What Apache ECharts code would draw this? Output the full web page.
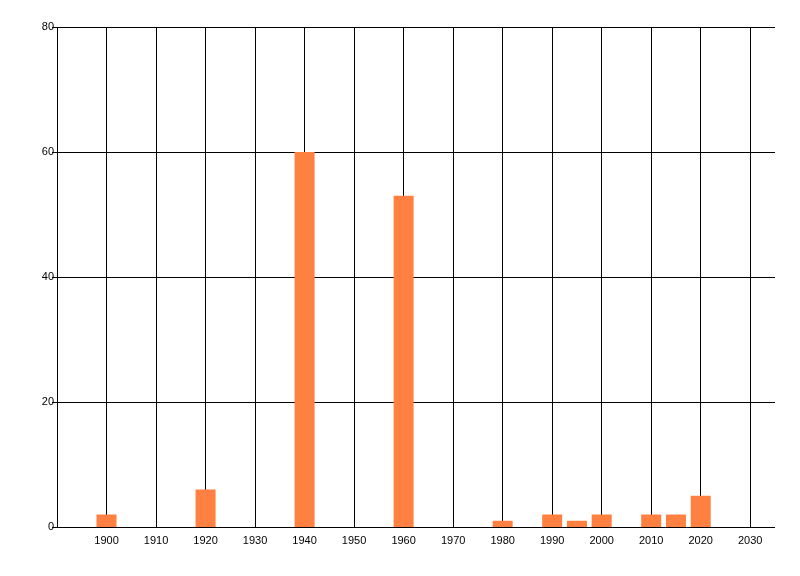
<!DOCTYPE html>
<html>
<head>
<meta charset="utf-8">
<script src="https://cdn.jsdelivr.net/npm/echarts@6/dist/echarts.min.js"></script>
<style>html,body{margin:0;padding:0;background:#fff}#c{width:800px;height:576px}</style>
</head>
<body>
<div id="c"></div>
<script>
const years = [1900, 1920, 1940, 1960, 1980, 1990, 1995, 2000, 2010, 2015, 2020];
const counts = [2, 6, 60, 53, 1, 2, 1, 2, 2, 2, 5];
const xTicks = [1900, 1910, 1920, 1930, 1940, 1950, 1960, 1970, 1980, 1990, 2000, 2010, 2020, 2030];
const yTicks = [0, 20, 40, 60, 80];
const xMin = 1890;

const chart = echarts.init(document.getElementById('c'), null, {renderer: 'canvas'});
const font = {fontFamily: 'Liberation Sans, Arial, sans-serif', fontSize: 11, color: '#000'};
chart.setOption({
  animation: false,
  backgroundColor: '#fff',
  grid: {left: 57, right: 25, top: 27, bottom: 49, containLabel: false},
  xAxis: {
    type: 'value', min: xMin, max: 2035, interval: 10,
    axisLine: {show: false},
    axisTick: {show: false},
    axisLabel: Object.assign({margin: 8, formatter: v => xTicks.includes(v) ? String(v) : ''}, font),
    splitLine: {show: false}
  },
  yAxis: {
    type: 'value', min: 0, max: 80, interval: 20,
    axisLine: {show: false},
    axisTick: {show: true, length: 5, lineStyle: {color: '#000'}},
    axisLabel: Object.assign({margin: 3, formatter: v => yTicks.includes(v) ? String(v) : ''}, font),
    splitLine: {show: true, lineStyle: {color: '#000', width: 1}}
  },
  series: [{
    type: 'line',
    data: [],
    z: 1,
    silent: true,
    markLine: {
      silent: true,
      z: 1,
      symbol: 'none',
      label: {show: false},
      emphasis: {disabled: true},
      lineStyle: {color: '#000', type: 'solid', width: 1},
      data: [xMin].concat(xTicks).map(v => ({xAxis: v}))
    }
  }, {
    type: 'bar',
    z: 3,
    barWidth: 20,
    itemStyle: {color: '#FF8040'},
    data: years.map((y, i) => [y, counts[i]])
  }]
});
</script>
</body>
</html>
